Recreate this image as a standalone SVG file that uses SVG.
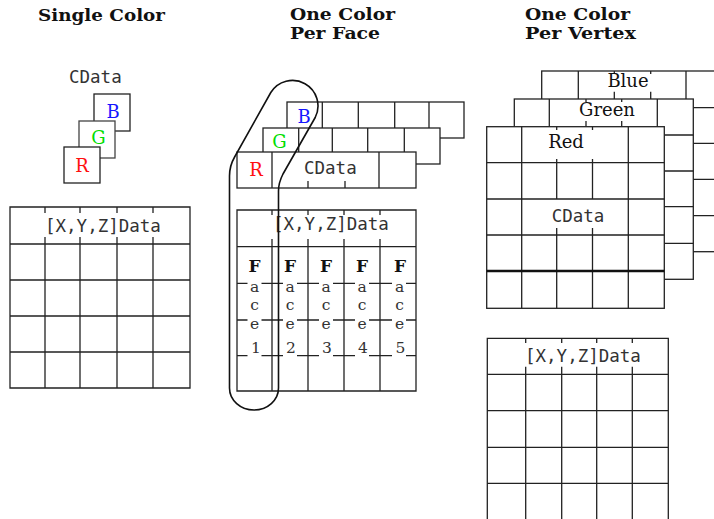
<svg xmlns="http://www.w3.org/2000/svg" width="714" height="519" viewBox="0 0 714 519">
<style>
.ln{stroke:#222;stroke-width:1.3;fill:none}
.cell{fill:#fff;stroke:#222;stroke-width:1.3}
.thick{stroke:#111;stroke-width:2.6;fill:none}
.mono{font-family:"DejaVu Sans Mono","Liberation Mono",monospace;font-size:17.5px;fill:#333}
.ser{font-family:"DejaVu Serif","Liberation Serif",serif;fill:#111}
.title{font-family:"DejaVu Serif","Liberation Serif",serif;font-weight:bold;font-size:17.5px;fill:#111}
.title2{font-family:"DejaVu Serif","Liberation Serif",serif;font-weight:bold;font-size:16px;fill:#111}
.let{font-family:"DejaVu Serif","Liberation Serif",serif;font-size:18px;text-anchor:middle}
.face{font-family:"DejaVu Serif","Liberation Serif",serif;font-size:15.5px;fill:#333;text-anchor:middle}
.faceF{font-family:"DejaVu Serif","Liberation Serif",serif;font-size:17px;font-weight:bold;fill:#111;text-anchor:middle}
</style>
<rect width="714" height="519" fill="#fff"/>

<g id="titles">
<text class="title" x="38" y="20.7" textLength="127" lengthAdjust="spacingAndGlyphs">Single Color</text>
<text class="title2" x="290" y="19.7" textLength="105" lengthAdjust="spacingAndGlyphs">One Color</text>
<text class="title2" x="290" y="38.5" textLength="90" lengthAdjust="spacingAndGlyphs">Per Face</text>
<text class="title2" x="525" y="19.7" textLength="105" lengthAdjust="spacingAndGlyphs">One Color</text>
<text class="title2" x="525" y="38.5" textLength="111" lengthAdjust="spacingAndGlyphs">Per Vertex</text>
</g>

<!-- Single color -->
<g id="single-cdata">
<text class="mono" x="69" y="83">CData</text>
<rect class="cell" x="94" y="94" width="36" height="37"/>
<text class="let" x="113" y="118" fill="#1515ff">B</text>
<rect class="cell" x="79" y="121" width="36" height="37" style="stroke:#444"/>
<text class="let" x="98.5" y="144" fill="#00dd00">G</text>
<rect class="cell" x="64" y="147" width="36" height="36"/>
<text class="let" x="82" y="171.5" fill="#ff1010">R</text>
</g>

<g id="single-xyz">
<path class="ln" d="M10 207H190V388H10Z M10 244H190 M10 280H190 M10 316H190 M10 352H190 M45 244V388 M80 244V388 M117 244V388 M153 244V388 M45 207V213 M80 207V213 M117 207V213 M153 207V213 M45 237V244 M80 237V244 M117 237V244 M153 237V244"/>
<text class="mono" x="45" y="231.5">[X,Y,Z]Data</text>
</g>

<!-- One color per face -->
<g id="face-blue">
<rect class="cell" x="287" y="102" width="177" height="36"/>
<path class="ln" d="M322.3 102V138 M358.3 102V138 M394.7 102V138 M429 102V138"/>
<text class="let" x="304" y="123" fill="#1515ff">B</text>
</g>
<g id="face-green">
<rect class="cell" x="263" y="128" width="177" height="36"/>
<path class="ln" d="M298.7 128V164 M332.3 128V164 M367.7 128V164 M404.3 128V164"/>
<text class="let" x="279.5" y="147.7" fill="#00dd00">G</text>
</g>
<g id="face-red">
<rect class="cell" x="237" y="152" width="179" height="36"/>
<path class="ln" d="M272 152V188 M308 181V188 M345 181V188 M379 152V188"/>
<text class="let" x="256" y="176" fill="#ff1010">R</text>
<text class="mono" x="304" y="174">CData</text>
</g>

<g id="face-xyz">
<path class="ln" d="M237 210H416V391H237Z M237 246.7H416 M237 283.3H416 M237 320H416 M237 355.7H416 M272 246.7V391 M308 246.7V391 M344 246.7V391 M380 246.7V391 M272 210V215 M308 210V215 M344 210V215 M380 210V215 M272 239V246.7 M308 239V246.7 M344 239V246.7 M380 239V246.7"/>
<text class="mono" x="273" y="230">[X,Y,Z]Data</text>
<g fill="#fff">
<rect x="247.5" y="276" width="14" height="83"/>
<rect x="283" y="276" width="14" height="83"/>
<rect x="319" y="276" width="14" height="83"/>
<rect x="355" y="276" width="14" height="83"/>
<rect x="392" y="276" width="14" height="83"/>
</g>
<g>
<text class="faceF" x="254.5" y="272">F</text><text class="face" x="254.5" y="291.5">a</text><text class="face" x="254.5" y="310">c</text><text class="face" x="254.5" y="329">e</text><text class="face" x="256" y="353">1</text>
<text class="faceF" x="290" y="272">F</text><text class="face" x="290" y="291.5">a</text><text class="face" x="290" y="310">c</text><text class="face" x="290" y="329">e</text><text class="face" x="291" y="353">2</text>
<text class="faceF" x="326" y="272">F</text><text class="face" x="326" y="291.5">a</text><text class="face" x="326" y="310">c</text><text class="face" x="326" y="329">e</text><text class="face" x="327" y="353">3</text>
<text class="faceF" x="362" y="272">F</text><text class="face" x="362" y="291.5">a</text><text class="face" x="362" y="310">c</text><text class="face" x="362" y="329">e</text><text class="face" x="363" y="353">4</text>
<text class="faceF" x="400" y="272">F</text><text class="face" x="399.5" y="291.5">a</text><text class="face" x="399.5" y="310">c</text><text class="face" x="399.5" y="329">e</text><text class="face" x="400.5" y="353">5</text>
</g>
</g>

<g id="connectors">
<path id="face-loop" class="ln" style="stroke:#111;stroke-width:1.6" d="M229.5 388V176Q229.5 165.8 234.6 157L270.8 92.5A25.5 25.5 0 0 1 315.2 117.5L283 174Q278.5 182.7 278.5 191V388A24.5 22 0 0 1 229.5 388Z"/>
</g>

<!-- One color per vertex -->
<g id="vertex-blue">
<rect class="cell" x="541.7" y="71" width="216" height="180.7"/>
<path class="ln" d="M541.7 107.7H760 M541.7 143.3H760 M541.7 179.3H760 M541.7 215.7H760 M578.3 71V251.7 M614.3 107.7V251.7 M650.7 107.7V251.7 M686 71V251.7 M722 71V251.7 M614.3 71V74 M650.7 71V74 M614.3 91.7V107.7 M650.7 91.7V107.7"/>
<text class="ser" x="628" y="86.7" font-size="18" text-anchor="middle">Blue</text>
</g>
<g id="vertex-green">
<rect class="cell" x="514.3" y="99" width="179" height="180.3"/>
<path class="ln" d="M514.3 135H693.3 M514.3 171H693.3 M514.3 206.7H693.3 M514.3 243.3H693.3 M549.3 99V279.3 M586 135V279.3 M621.7 135V279.3 M657.3 99V279.3 M586 99V102 M621.7 99V102 M586 121V135 M621.7 121V135"/>
<text class="ser" x="607" y="116" font-size="18" text-anchor="middle">Green</text>
</g>
<g id="vertex-red">
<rect class="cell" x="486.7" y="126.7" width="177.6" height="181.6"/>
<path class="ln" d="M486.7 162.7H664.3 M486.7 199H664.3 M486.7 235H664.3 M521.7 126.7V308.3 M556.7 235V308.3 M592.5 235V308.3 M628.3 126.7V308.3 M556.7 126.7V130 M592.5 126.7V130 M556.7 159V162.7 M592.5 159V162.7 M556.7 162.7V199 M592.5 162.7V199 M556.7 228V235 M592.5 228V235"/>
<path class="thick" d="M486.7 271H664.3"/>
<text class="ser" x="566" y="148.3" font-size="18" text-anchor="middle">Red</text>
<text class="mono" x="551.7" y="221.7">CData</text>
</g>

<g id="vertex-xyz">
<path class="ln" d="M487.3 525V338.3H668.3V525 M487.3 374.3H668.3 M487.3 410.7H668.3 M487.3 447.3H668.3 M487.3 483.3H668.3 M525.7 374.3V525 M561.7 374.3V525 M596.7 374.3V525 M632.3 374.3V525 M525.7 338.3V343 M561.7 338.3V343 M596.7 338.3V343 M632.3 338.3V343 M525.7 366.7V374.3 M561.7 366.7V374.3 M596.7 366.7V374.3 M632.3 366.7V374.3"/>
<text class="mono" x="525" y="361.7">[X,Y,Z]Data</text>
</g>
</svg>
